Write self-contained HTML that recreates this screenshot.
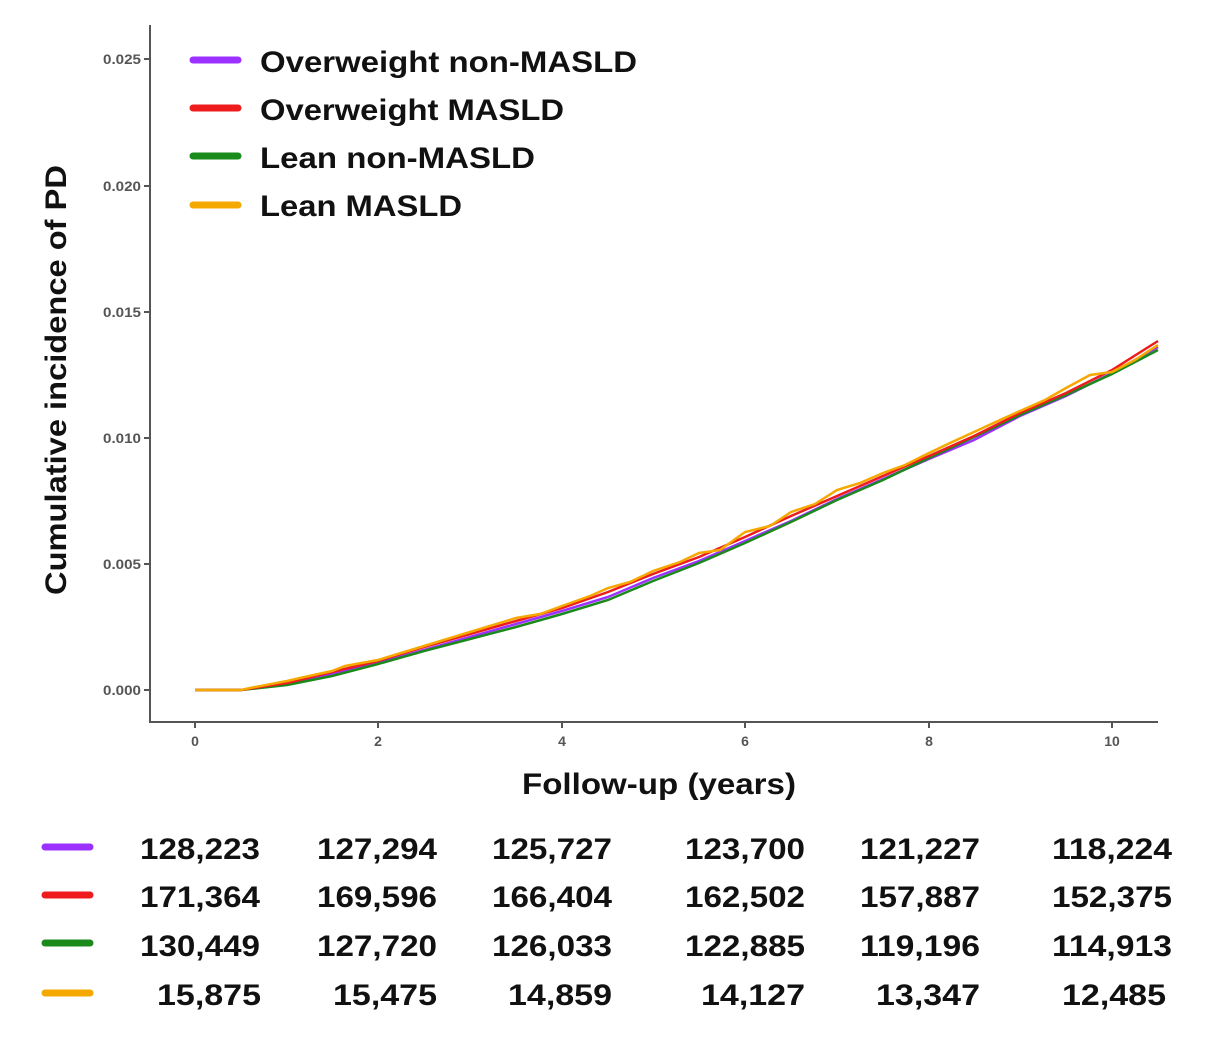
<!DOCTYPE html>
<html><head><meta charset="utf-8"><style>
body{margin:0;background:#fff}
svg{display:block}
text{font-family:"Liberation Sans",Arial,sans-serif}
</style></head><body>
<svg width="1228" height="1039" viewBox="0 0 1228 1039">
<rect width="1228" height="1039" fill="#fff"/>
<g stroke="#555" stroke-width="2" fill="none">
<line x1="150" y1="25" x2="150" y2="722"/>
<line x1="149" y1="722" x2="1158" y2="722"/>
<line x1="144" y1="690" x2="150" y2="690"/><line x1="144" y1="564" x2="150" y2="564"/>
<line x1="144" y1="438" x2="150" y2="438"/><line x1="144" y1="312" x2="150" y2="312"/>
<line x1="144" y1="186" x2="150" y2="186"/><line x1="144" y1="59" x2="150" y2="59"/>
<line x1="195" y1="722" x2="195" y2="728"/><line x1="378" y1="722" x2="378" y2="728"/>
<line x1="562" y1="722" x2="562" y2="728"/><line x1="745" y1="722" x2="745" y2="728"/>
<line x1="929" y1="722" x2="929" y2="728"/><line x1="1112" y1="722" x2="1112" y2="728"/>
</g>
<g fill="#555" font-size="14" font-weight="bold" text-anchor="end">
<text x="141" y="695" textLength="38" lengthAdjust="spacingAndGlyphs">0.000</text><text x="141" y="569" textLength="38" lengthAdjust="spacingAndGlyphs">0.005</text><text x="141" y="443" textLength="38" lengthAdjust="spacingAndGlyphs">0.010</text>
<text x="141" y="317" textLength="38" lengthAdjust="spacingAndGlyphs">0.015</text><text x="141" y="191" textLength="38" lengthAdjust="spacingAndGlyphs">0.020</text><text x="141" y="64" textLength="38" lengthAdjust="spacingAndGlyphs">0.025</text>
</g>
<g fill="#555" font-size="14" font-weight="bold" text-anchor="middle">
<text x="195" y="746">0</text><text x="378" y="746">2</text><text x="562" y="746">4</text>
<text x="745" y="746">6</text><text x="929" y="746">8</text><text x="1112" y="746">10</text>
</g>
<text x="522" y="794" font-size="30" font-weight="bold" fill="#111" textLength="274" lengthAdjust="spacingAndGlyphs">Follow-up (years)</text>
<text transform="translate(66,595) rotate(-90)" font-size="30" font-weight="bold" fill="#111" textLength="430" lengthAdjust="spacingAndGlyphs">Cumulative incidence of PD</text>
<g fill="none" stroke-width="2.5">
<polyline stroke="#9b30ff" points="195,690 241,690 287,684 332,674 378,663 424,650 470,637 516,624 562,611 608,597 653,578 699,561 745,541 791,521 837,499 883,479 929,459 974,440 1020,416 1066,396 1112,373 1158,347"/>
<polyline stroke="#1a8a1a" points="195,690 241,690 287,685 332,676 378,664 424,651 470,639 516,627 562,614 608,600 653,581 699,563 745,543 791,522 837,500 883,480 929,458 974,437 1020,415 1066,395 1112,374 1158,350"/>
<polyline stroke="#ee1c1c" points="195,690 241,690 287,683 332,672 378,661 424,647 470,634 516,621 562,608 608,592 653,574 699,557 745,537 791,516 837,496 883,476 929,456 974,436 1020,413 1066,393 1112,370 1158,341"/>
<polyline stroke="#f5a800" points="195,690 241,690 250,688 287,681 300,678 332,671 345,666 378,660 424,646 470,632 516,618 540,614 562,606 590,596 608,588 630,582 653,571 680,562 699,553 720,550 745,532 770,526 791,512 815,504 837,490 860,483 883,473 905,465 929,453 950,443 974,432 1000,420 1020,411 1045,400 1066,388 1090,375 1112,372 1135,360 1158,345"/>
</g>
<g stroke-width="7" stroke-linecap="round">
<line x1="193" y1="60" x2="238" y2="60" stroke="#9b30ff"/>
<line x1="193" y1="108" x2="238" y2="108" stroke="#ee1c1c"/>
<line x1="193" y1="156" x2="238" y2="156" stroke="#1a8a1a"/>
<line x1="193" y1="205" x2="238" y2="205" stroke="#f5a800"/>
<line x1="45" y1="847" x2="90" y2="847" stroke="#9b30ff"/>
<line x1="45" y1="895" x2="90" y2="895" stroke="#ee1c1c"/>
<line x1="45" y1="943" x2="90" y2="943" stroke="#1a8a1a"/>
<line x1="45" y1="993" x2="90" y2="993" stroke="#f5a800"/>
</g>
<g font-size="30" font-weight="bold" fill="#111" lengthAdjust="spacingAndGlyphs">
<text x="260" y="72" textLength="377" lengthAdjust="spacingAndGlyphs">Overweight non-MASLD</text>
<text x="260" y="120" textLength="304" lengthAdjust="spacingAndGlyphs">Overweight MASLD</text>
<text x="260" y="168" textLength="275" lengthAdjust="spacingAndGlyphs">Lean non-MASLD</text>
<text x="260" y="216" textLength="202" lengthAdjust="spacingAndGlyphs">Lean MASLD</text>
</g>
<g font-size="30" font-weight="bold" fill="#111">
<text x="140" y="859" textLength="120" lengthAdjust="spacingAndGlyphs">128,223</text><text x="317" y="859" textLength="120" lengthAdjust="spacingAndGlyphs">127,294</text><text x="492" y="859" textLength="120" lengthAdjust="spacingAndGlyphs">125,727</text><text x="685" y="859" textLength="120" lengthAdjust="spacingAndGlyphs">123,700</text><text x="860" y="859" textLength="120" lengthAdjust="spacingAndGlyphs">121,227</text><text x="1052" y="859" textLength="120" lengthAdjust="spacingAndGlyphs">118,224</text>
<text x="140" y="907" textLength="120" lengthAdjust="spacingAndGlyphs">171,364</text><text x="317" y="907" textLength="120" lengthAdjust="spacingAndGlyphs">169,596</text><text x="492" y="907" textLength="120" lengthAdjust="spacingAndGlyphs">166,404</text><text x="685" y="907" textLength="120" lengthAdjust="spacingAndGlyphs">162,502</text><text x="860" y="907" textLength="120" lengthAdjust="spacingAndGlyphs">157,887</text><text x="1052" y="907" textLength="120" lengthAdjust="spacingAndGlyphs">152,375</text>
<text x="140" y="956" textLength="120" lengthAdjust="spacingAndGlyphs">130,449</text><text x="317" y="956" textLength="120" lengthAdjust="spacingAndGlyphs">127,720</text><text x="492" y="956" textLength="120" lengthAdjust="spacingAndGlyphs">126,033</text><text x="685" y="956" textLength="120" lengthAdjust="spacingAndGlyphs">122,885</text><text x="860" y="956" textLength="120" lengthAdjust="spacingAndGlyphs">119,196</text><text x="1052" y="956" textLength="120" lengthAdjust="spacingAndGlyphs">114,913</text>
<text x="157" y="1005" textLength="104" lengthAdjust="spacingAndGlyphs">15,875</text><text x="333" y="1005" textLength="104" lengthAdjust="spacingAndGlyphs">15,475</text><text x="508" y="1005" textLength="104" lengthAdjust="spacingAndGlyphs">14,859</text><text x="701" y="1005" textLength="104" lengthAdjust="spacingAndGlyphs">14,127</text><text x="876" y="1005" textLength="104" lengthAdjust="spacingAndGlyphs">13,347</text><text x="1062" y="1005" textLength="104" lengthAdjust="spacingAndGlyphs">12,485</text>
</g>
</svg>
</body></html>
